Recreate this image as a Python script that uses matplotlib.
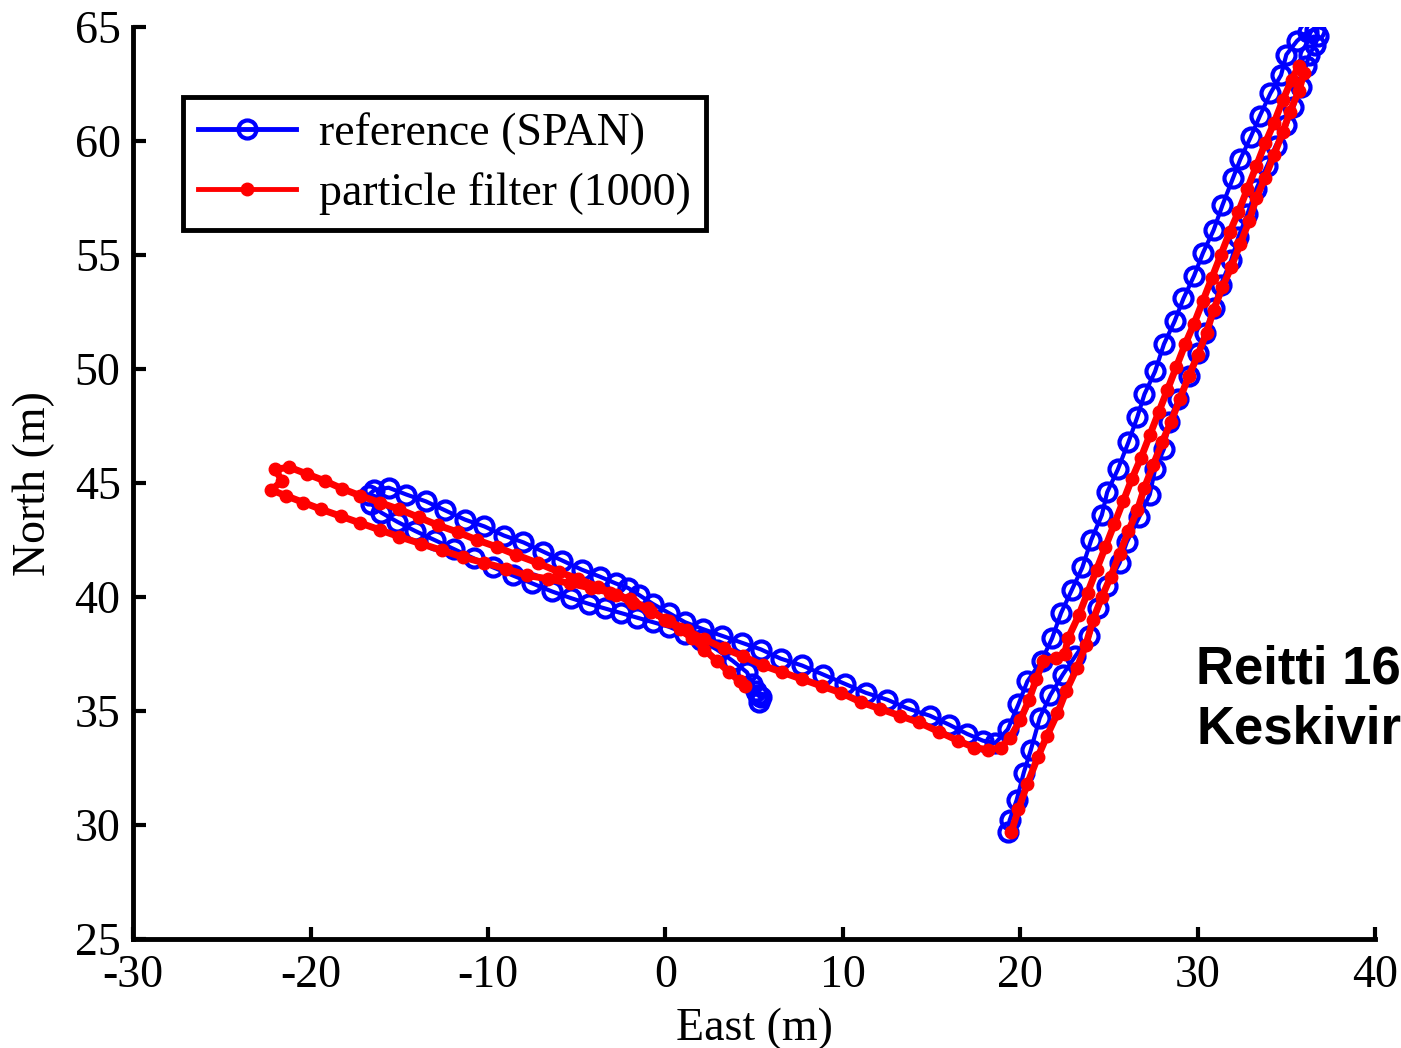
import matplotlib
matplotlib.use("Agg")
import matplotlib.pyplot as plt

# reference trajectory (SPAN), East / North in metres
ref_east = [5.3, 5.4, 5.2, 5.1, 4.9, 4.6, 3.8, 2.9, 2.0, 1.1, 0.2, -0.7, -1.6, -2.5, -3.4, -4.3,
            -5.3, -6.4, -7.5, -8.6, -9.7, -10.8, -11.9, -13.0, -14.1, -15.1, -16.0, -16.6, -16.7,
            -16.4, -15.6, -14.6, -13.5, -12.4, -11.3, -10.2, -9.1, -8.0, -6.9, -5.8, -4.7, -3.7,
            -2.8, -2.1, -1.5, -0.7, 0.2, 1.1, 2.1, 3.2, 4.3, 5.4, 6.5, 7.7, 8.9, 10.1, 11.3, 12.5,
            13.7, 14.9, 16.0, 17.0, 17.9, 18.6, 19.3, 19.9, 20.4, 21.2,
            21.8, 22.3, 22.9, 23.5, 24.0, 24.6, 24.9, 25.5, 26.1, 26.6, 27.0, 27.6, 28.1, 28.7, 29.2,
            29.8, 30.3, 30.9, 31.4, 32.0, 32.4, 33.0, 33.5, 34.1, 34.7, 35.0, 35.6, 36.2, 36.6, 36.8,
            36.6, 36.3, 36.1, 35.8, 35.4, 35.0, 34.4, 33.9, 33.3, 32.8, 32.3, 31.9, 31.3, 30.9, 30.4,
            30.0, 29.5, 28.9, 28.4, 28.1, 27.6, 27.3, 26.7, 26.0, 25.6, 24.9, 24.4, 23.9, 23.1, 22.4,
            21.7, 21.1, 20.6, 20.2, 19.8, 19.4, 19.3]
ref_north = [35.4, 35.6, 35.7, 35.9, 36.2, 36.7, 37.2, 37.7, 38.1, 38.4, 38.7, 38.9, 39.1, 39.3, 39.5, 39.7,
             39.95, 40.25, 40.6, 40.95, 41.3, 41.7, 42.1, 42.5, 42.9, 43.3, 43.7, 44.1, 44.5,
             44.7, 44.8, 44.5, 44.2, 43.8, 43.4, 43.1, 42.7, 42.4, 42.0, 41.6, 41.2, 40.9,
             40.6, 40.4, 40.1, 39.7, 39.3, 38.9, 38.6, 38.3, 38.0, 37.7, 37.3, 37.0, 36.6, 36.2, 35.8, 35.5,
             35.1, 34.8, 34.4, 34.0, 33.7, 33.6, 34.2, 35.3, 36.3, 37.2,
             38.2, 39.3, 40.3, 41.3, 42.5, 43.6, 44.6, 45.6, 46.8, 47.9, 48.9, 49.9, 51.1, 52.1, 53.1,
             54.1, 55.1, 56.1, 57.2, 58.4, 59.2, 60.2, 61.1, 62.1, 62.9, 63.8, 64.4, 64.8, 64.9, 64.6,
             64.2, 63.8, 63.3, 62.4, 61.5, 60.7, 59.8, 58.9, 57.9, 56.8, 55.8, 54.8, 53.7, 52.7, 51.6,
             50.7, 49.7, 48.7, 47.7, 46.5, 45.6, 44.5, 43.5, 42.4, 41.5, 40.5, 39.5, 38.3, 37.4, 36.6,
             35.7, 34.7, 33.3, 32.3, 31.1, 30.2, 29.7]

# particle filter estimate (1000 particles)
pf_east = [4.5, 4.2, 3.6, 2.9, 2.2, 1.5, 0.8, 0.0, -1.0, -2.0, -3.1, -4.2, -5.4, -6.6, -7.8, -9.0,
           -10.2, -11.4, -12.6, -13.8, -15.0, -16.1, -17.2, -18.3, -19.4, -20.4, -21.4, -22.2, -21.6,
           -22.0, -21.2, -20.2, -19.2, -18.2, -17.2, -16.1, -15.0, -13.9, -12.8, -11.7, -10.6, -9.5,
           -8.4, -7.2, -6.0, -4.9, -3.8, -2.8, -1.8, -0.8, 0.2, 1.2, 2.2, 3.3, 4.4, 5.5, 6.6, 7.7, 8.8,
           9.9, 11.0, 12.1, 13.2, 14.3, 15.4, 16.5, 17.4, 18.2, 18.9, 19.4, 20.0, 20.5, 20.9, 21.3, 22.0,
           22.5, 22.7, 23.3, 23.8, 24.3, 24.8, 25.3, 25.8, 26.3, 26.8, 27.3, 27.8, 28.3, 28.8, 29.3,
           29.8, 30.3, 30.8, 31.3, 31.8, 32.3, 32.8, 33.3, 33.8, 34.3, 34.8, 35.3, 35.7, 36.0, 35.7,
           35.2, 34.8, 34.3, 33.8, 33.3, 32.9, 32.4, 31.9, 31.4, 30.9, 30.5, 30.0, 29.5, 29.0, 28.5,
           28.0, 27.5, 27.0, 26.6, 26.1, 25.6, 25.1, 24.6, 24.1, 23.7, 23.2, 22.6, 22.1, 21.5, 21.0,
           20.4, 19.9, 19.5]
pf_north = [36.1, 36.3, 36.7, 37.2, 37.7, 38.2, 38.6, 39.0, 39.5, 39.9, 40.2, 40.4, 40.6, 40.8, 40.95, 41.25,
            41.5, 41.75, 42.05, 42.35, 42.65, 42.95, 43.25, 43.55, 43.85, 44.15, 44.45, 44.7, 45.1,
            45.6, 45.7, 45.4, 45.1, 44.75, 44.45, 44.15, 43.85, 43.5, 43.15, 42.85, 42.5, 42.2,
            41.85, 41.5, 41.1, 40.8, 40.45, 40.1, 39.75, 39.35, 38.95, 38.55, 38.15, 37.75, 37.4, 37.0, 36.7, 36.4, 36.1,
            35.8, 35.4, 35.1, 34.8, 34.5, 34.1, 33.7, 33.4, 33.3, 33.4, 33.8, 34.6, 35.5, 36.4, 37.2, 37.35,
            37.5, 38.2, 39.2, 40.2, 41.2, 42.2, 43.2, 44.2, 45.2, 46.1, 47.1, 48.1, 49.1, 50.1, 51.1,
            52.0, 53.0, 54.0, 55.0, 56.0, 56.9, 57.9, 58.9, 59.9, 60.8, 61.8, 62.7, 63.3, 63.0, 62.2,
            61.3, 60.4, 59.4, 58.4, 57.5, 56.5, 55.5, 54.5, 53.6, 52.6, 51.6, 50.6, 49.7, 48.7, 47.7,
            46.8, 45.8, 44.8, 43.8, 42.9, 41.9, 40.9, 40.0, 39.0, 37.9, 36.9, 35.9, 34.9, 33.9, 33.0,
            31.8, 30.7, 29.7]

plt.rcParams['font.family'] = ['Liberation Serif', 'DejaVu Serif']
plt.rcParams['axes.unicode_minus'] = False

fig = plt.figure(figsize=(14.01, 10.48), dpi=100)
ax = fig.add_axes([0.095, 0.104, 0.8865, 0.870])

ax.plot(ref_east, ref_north, linestyle='-', marker='o', color='#0000ff', lw=3,
        ms=13, mew=3, mfc='none', label='reference (SPAN)')
ax.plot(pf_east, pf_north, linestyle='-', marker='.', color='#ff0000', lw=5,
        ms=18, label='particle filter (1000)')

ax.set_xlim(-30, 40)
ax.set_ylim(25, 65)
ax.set_xticks(range(-30, 41, 10))
ax.set_yticks(range(25, 66, 5))
for s in ['top', 'right']:
    ax.spines[s].set_visible(False)
for s in ['left', 'bottom']:
    ax.spines[s].set_linewidth(3.5)
ax.tick_params(direction='in', length=9, width=3, labelsize=33, pad=9)
ax.tick_params(axis='x', pad=11)

ax.set_xlabel('East (m)', fontsize=33, labelpad=8)
ax.set_ylabel('North (m)', fontsize=33, labelpad=14)

leg = ax.legend(loc='upper left', bbox_to_anchor=(0.04, 0.923), borderaxespad=0,
                fontsize=33, fancybox=False, edgecolor='black', framealpha=1,
                handlelength=2.14, handletextpad=0.5, labelspacing=0.36,
                borderpad=0.33)
leg.get_frame().set_linewidth(3.5)
for h in leg.legend_handles:
    h.set_linewidth(3.5)

fig.text(0.854, 0.385, 'Reitti 16\nKeskivir', fontsize=38, fontweight='bold',
         family='Liberation Sans', ha='left', va='top', linespacing=1.25)

fig.savefig('out.png', dpi=100)
